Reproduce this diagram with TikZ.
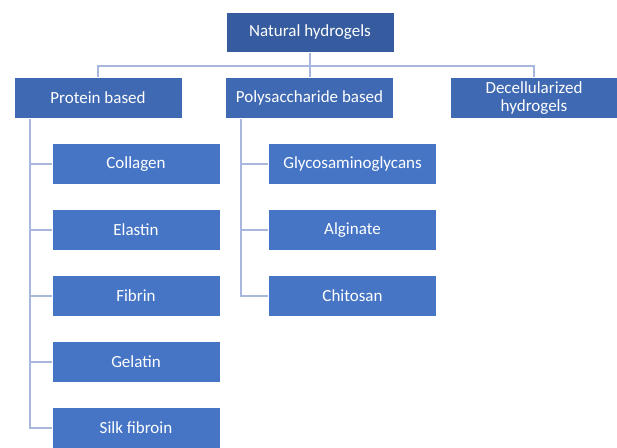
\documentclass[tikz,border=0pt]{standalone}
\usepackage{fontspec}
\setmainfont{Carlito}
\definecolor{rootblue}{HTML}{365C9F}
\definecolor{midblue}{HTML}{3F69B2}
\definecolor{leafblue}{HTML}{4675C6}
\definecolor{linkblue}{HTML}{A7B7DD}
\begin{document}
\begin{tikzpicture}[x=1pt, y=-1pt,
  every node/.style={font=\fontsize{17}{18}\selectfont, text=white, inner sep=2pt, align=center},
  box/.style={draw=white, line width=0.6pt, minimum width=168pt, minimum height=41pt},
  rootbox/.style={box, fill=rootblue, minimum height=40pt},
  groupbox/.style={box, fill=midblue},
  leafbox/.style={box, fill=leafblue},
  link/.style={draw=linkblue, line width=1.6pt}]
  \useasboundingbox (0,0) rectangle (617,447);
  % top level
  \node[rootbox] (root) at (310,32.5) {Natural hydrogels};
  \node[groupbox] (protein) at (98,98) {Protein based};
  \node[groupbox] (poly) at (309.5,98) {Polysaccharide based};
  \node[groupbox] (decel) at (534,98) {Decellularized\\hydrogels};
  % protein children
  \node[leafbox] (collagen) at (136,164) {Collagen};
  \node[leafbox] (elastin) at (136,230) {Elastin};
  \node[leafbox] (fibrin) at (136,296) {Fibrin};
  \node[leafbox] (gelatin) at (136,362) {Gelatin};
  \node[leafbox] (silk) at (136,428) {Silk fibroin};
  % polysaccharide children
  \node[leafbox] (gag) at (352.5,164) {Glycosaminoglycans};
  \node[leafbox] (alginate) at (352.5,230) {Alginate};
  \node[leafbox] (chitosan) at (352.5,296) {Chitosan};
  % connectors
  \coordinate (hub) at (root.south |- 0,66);
  \draw[link] (root.south) -- (root.south |- poly.north);
  \draw[link] (protein.north) |- (hub) -| (decel.north);
  \coordinate (ptrunk) at ([xshift=16pt]protein.south west);
  \coordinate (strunk) at ([xshift=16pt]poly.south west);
  \draw[link] (ptrunk) |- (silk.west);
  \foreach \c in {collagen, elastin, fibrin, gelatin}
    \draw[link] (ptrunk |- \c.west) -- (\c.west);
  \draw[link] (strunk) |- (chitosan.west);
  \foreach \c in {gag, alginate}
    \draw[link] (strunk |- \c.west) -- (\c.west);
\end{tikzpicture}
\end{document}
